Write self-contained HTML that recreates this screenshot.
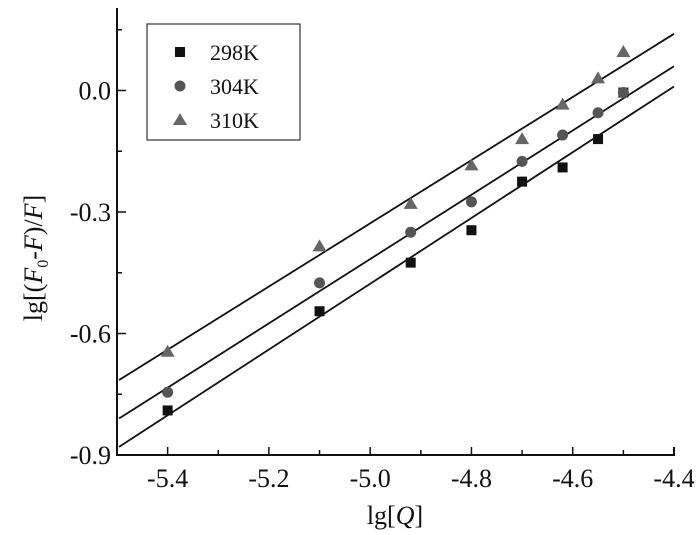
<!DOCTYPE html>
<html><head><meta charset="utf-8"><style>
body{margin:0;background:#fff;}
text,tspan{font-family:"Liberation Serif","Times New Roman",serif;}
</style></head><body>
<svg id="chart" width="700" height="530" viewBox="0 0 700 530" xmlns="http://www.w3.org/2000/svg" font-family="Liberation Serif, serif">
<g id="plot"></g>
</svg>
<script>
const xTicks=[-5.4,-5.2,-5.0,-4.8,-4.6,-4.4];
const xTickLabels=["-5.4","-5.2","-5.0","-4.8","-4.6","-4.4"];
const yTicks=[-0.9,-0.6,-0.3,0.0];
const yTickLabels=["-0.9","-0.6","-0.3","0.0"];
const xValues=[-5.4,-5.1,-4.92,-4.8,-4.7,-4.62,-4.55,-4.5];
const y298=[-0.79,-0.545,-0.425,-0.345,-0.225,-0.19,-0.12,-0.005];
const y304=[-0.745,-0.475,-0.35,-0.275,-0.175,-0.11,-0.055,-0.005];
const y310=[-0.645,-0.385,-0.28,-0.185,-0.12,-0.035,0.03,0.095];
const fitX=[-5.5,-4.4];
const fit298=[-0.88,0.01];
const fit304=[-0.81,0.06];
const fit310=[-0.715,0.14];
const seriesNames=["298K","304K","310K"];

const NS="http://www.w3.org/2000/svg";
const L=117,R=674,B=455,T=8;
const FONT="Liberation Serif, serif";
const xs=v=>L+(v+5.5)/1.1*(R-L);
const ys=v=>B-(v+0.9)/0.3*121.5;
const g=document.getElementById('plot');
function mk(tag,at,parent){const e=document.createElementNS(NS,tag);for(const k in at)e.setAttribute(k,at[k]);if(tag==='text'){e.setAttribute('font-family',FONT);e.setAttribute('fill','#111');}(parent||g).appendChild(e);return e;}

let ax=mk('path',{d:`M${L},${T}V${B}H${R}V${B-8}`,fill:'none',stroke:'#111','stroke-width':2});


xTicks.forEach((v,i)=>{
  const x=xs(v);
  const t=mk('line',{x1:x,x2:x,y1:B,y2:B-8,stroke:'#111','stroke-width':1.5});
  
  
  const m=xs(v-0.1);
  const t2=mk('line',{x1:m,x2:m,y1:B,y2:B-5,stroke:'#111','stroke-width':1.5});
  
  
  const tx=mk('text',{x:x,y:B+32,'text-anchor':'middle','font-size':26});
  tx.textContent=xTickLabels[i];
  
  
});
[-0.75,-0.45,-0.15,0.15].forEach(v=>{
  const y=ys(v);
  const t=mk('line',{x1:L,x2:L+5,y1:y,y2:y,stroke:'#111','stroke-width':1.5});
  
  
});
yTicks.forEach((v,i)=>{
  const y=ys(v);
  const t=mk('line',{x1:L,x2:L+9,y1:y,y2:y,stroke:'#111','stroke-width':1.5});
  
  
  const tx=mk('text',{x:L-6,y:y+9,'text-anchor':'end','font-size':26});
  tx.textContent=yTickLabels[i];
  
  
});
let xt=mk('text',{x:395,y:524,'text-anchor':'middle','font-size':26});
xt.innerHTML='lg[<tspan font-style="italic">Q</tspan>]';


let yt=mk('text',{x:0,y:0,'text-anchor':'middle','font-size':26,transform:'translate(42,258) rotate(-90)'});
yt.innerHTML='lg[(<tspan font-style="italic">F</tspan><tspan font-size="16" dy="6">0</tspan><tspan dy="-6">-</tspan><tspan font-style="italic">F</tspan>)/<tspan font-style="italic">F</tspan>]';



[fit298,fit304,fit310].forEach((f,i)=>{
  const l=mk('line',{x1:xs(fitX[0])+2,y1:ys(f[0]),x2:xs(fitX[1]),y2:ys(f[1]),stroke:'#111','stroke-width':1.8});
  
  
});
function marker(kind,x,y){
  let e;
  if(kind===0)e=mk('rect',{x:x-5,y:y-5,width:10,height:10,fill:'#111'});
  else if(kind===1)e=mk('circle',{cx:x,cy:y,r:5.5,fill:'#555'});
  else e=mk('polygon',{points:`${x},${y-7} ${x-7},${y+5} ${x+7},${y+5}`,fill:'#666'});
  return e;
}
[y298,y304,y310].forEach((arr,k)=>{
  arr.forEach((v,i)=>{
    const e=marker(k,xs(xValues[i]),ys(v));
    
    
  });
});
let lg=mk('rect',{x:147,y:24,width:153,height:116,fill:'#fff',stroke:'#333','stroke-width':1.2});


seriesNames.forEach((n,i)=>{
  const y=52+i*34;
  const e=marker(i,180,y);
  
  
  const t=mk('text',{x:210,y:y+8,'font-size':22});
  t.textContent=n;
  
  
});
</script>
</body></html>
